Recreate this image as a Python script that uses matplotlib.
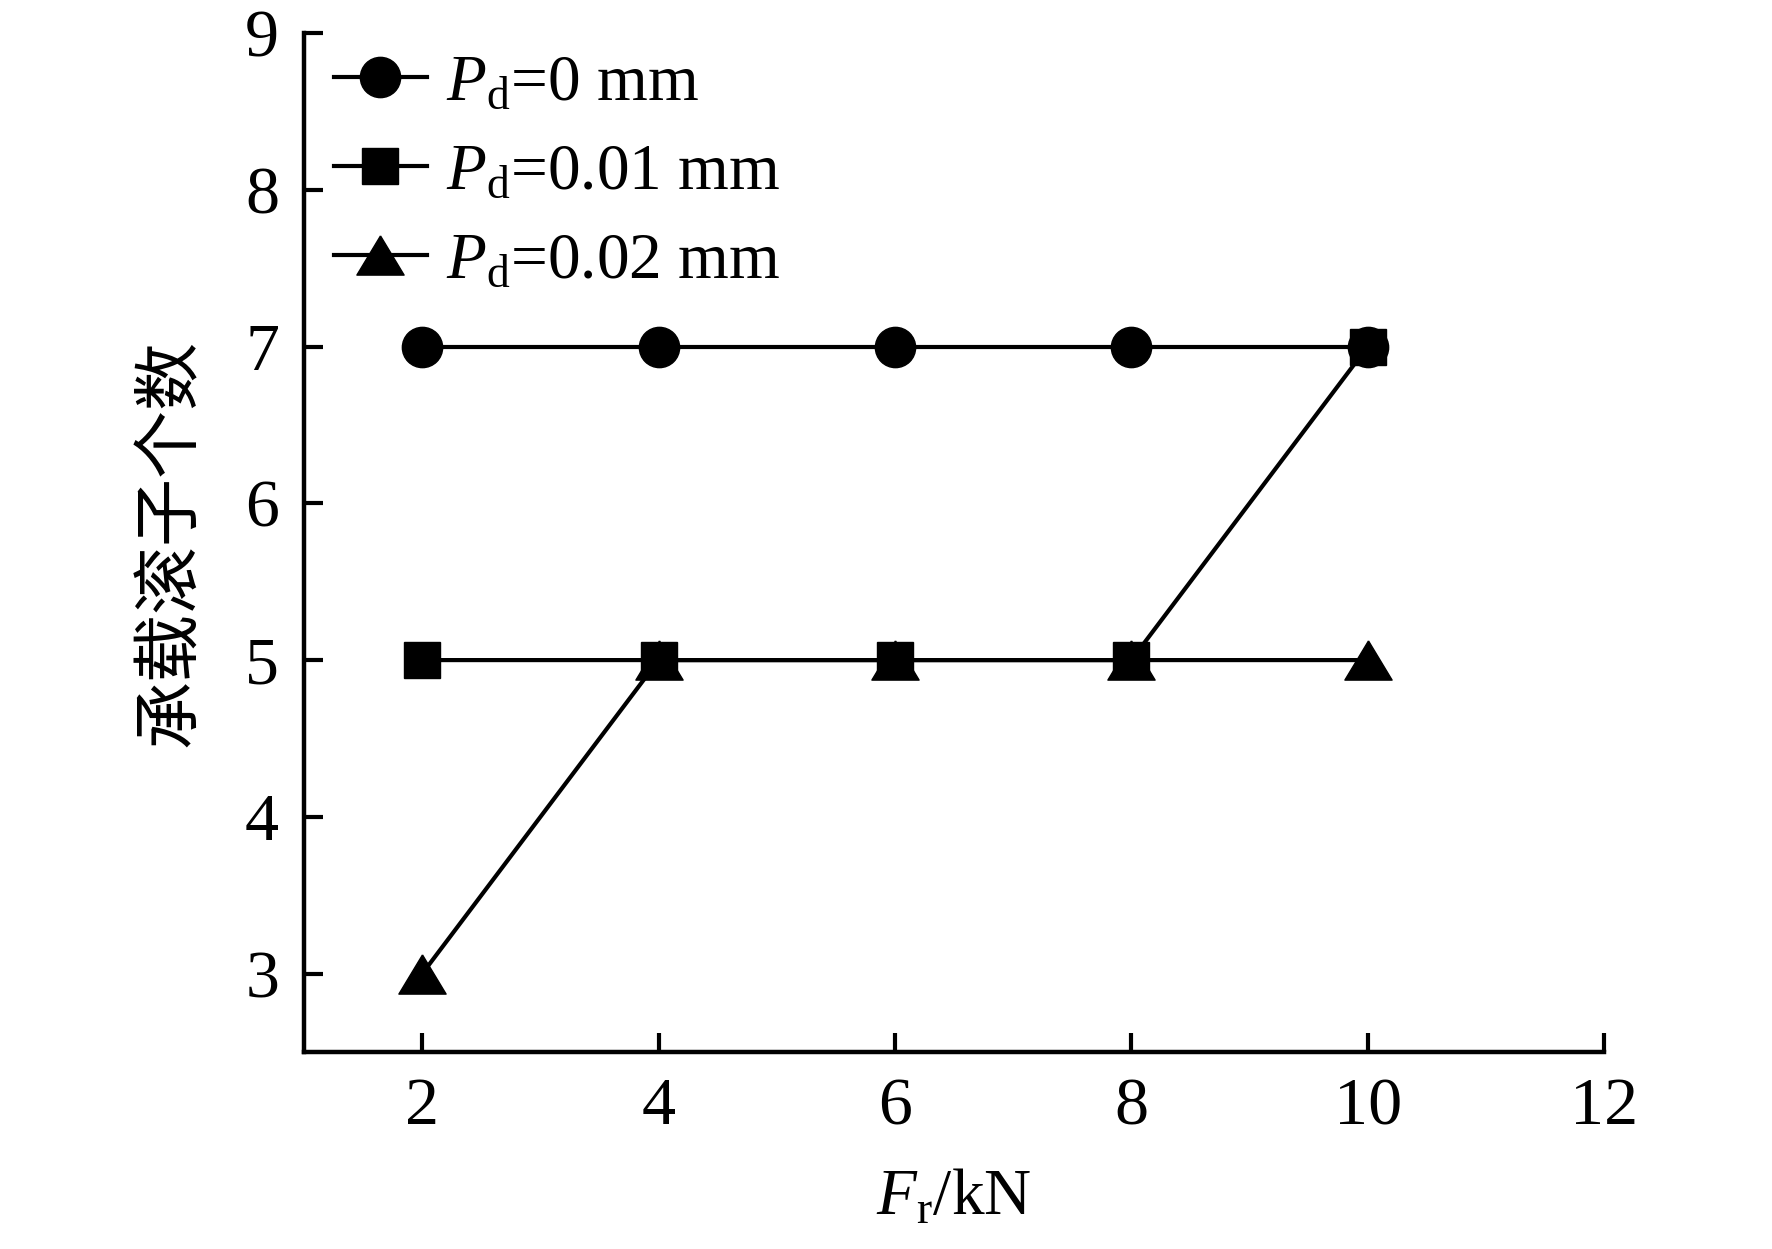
import numpy as np
import matplotlib.pyplot as plt

plt.rcParams['font.family'] = ['Liberation Serif', 'Noto Sans CJK SC']
plt.rcParams['mathtext.fontset'] = 'custom'
plt.rcParams['mathtext.rm'] = 'Liberation Serif'
plt.rcParams['mathtext.it'] = 'Liberation Serif:italic'

# data
fr = [2, 4, 6, 8, 10]
n_pd0 = [7, 7, 7, 7, 7]
n_pd001 = [5, 5, 5, 5, 7]
n_pd002 = [3, 5, 5, 5, 5]
labels = [r'$P_\mathrm{d}$=0 mm', r'$P_\mathrm{d}$=0.01 mm', r'$P_\mathrm{d}$=0.02 mm']

# wide, flat triangle like in the original
tri = [(0, 0.83), (-1, -0.83), (1, -0.83), (0, 0.83)]

fig = plt.figure(figsize=(17.72, 12.49), dpi=100)
ax = fig.add_axes([0.1716, 0.1577, 0.7336, 0.8159])

lw = 3.0
ax.plot(fr, n_pd0, '-o', color='k', lw=lw, ms=29, label=labels[0])
ax.plot(fr, n_pd001, '-s', color='k', lw=lw, ms=26, label=labels[1])
ax.plot(fr, n_pd002, '-', marker=tri, color='k', lw=lw, ms=34, label=labels[2])

ax.set_xlim(1, 12)
ax.set_ylim(2.5, 9)
ax.set_xticks([2, 4, 6, 8, 10, 12])
ax.set_yticks([3, 4, 5, 6, 7, 8, 9])
for s in ['top', 'right']:
    ax.spines[s].set_visible(False)
for s in ['left', 'bottom']:
    ax.spines[s].set_linewidth(3.2)
ax.tick_params(direction='in', length=13.7, width=3, labelsize=49)
ax.tick_params(axis='x', pad=18)
ax.tick_params(axis='y', pad=18)

ax.set_xlabel(r'$F_\mathrm{r}$/kN', fontsize=47, labelpad=22)
ax.set_ylabel('承载滚子个数', fontsize=49, family=['Noto Sans CJK SC'], labelpad=28)

ax.legend(loc='upper left', bbox_to_anchor=(0.023, 0.979), frameon=False, fontsize=47,
          handlelength=1.42, handletextpad=0.3, labelspacing=0.45,
          borderaxespad=0, borderpad=0)

fig.savefig('out.png', dpi=100)
